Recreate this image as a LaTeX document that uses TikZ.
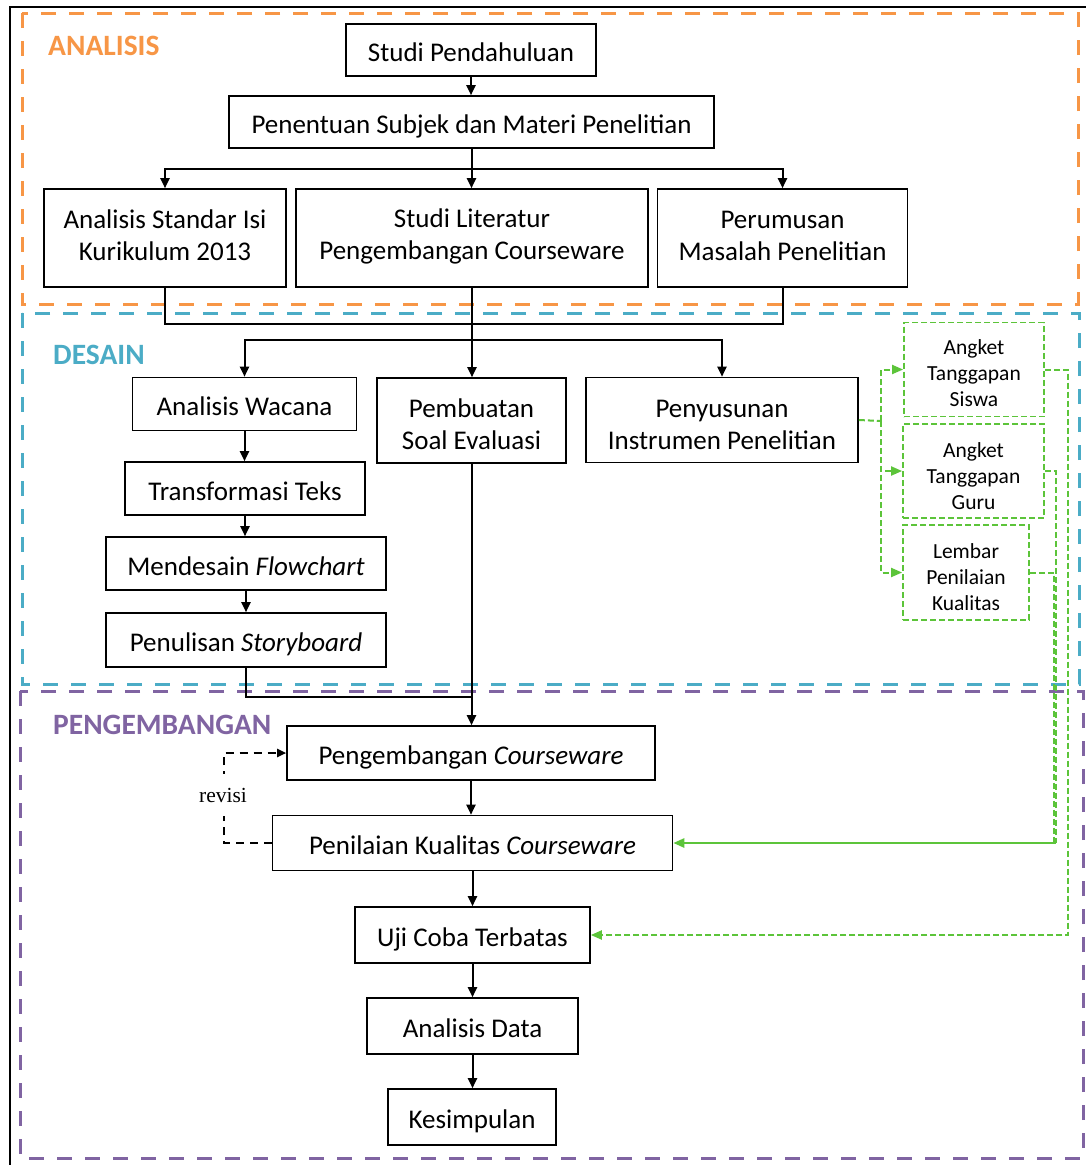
\documentclass[tikz,border=0pt]{standalone}
\usepackage{fontspec}
\setmainfont{Carlito}
\newfontfamily\revfont{Liberation Serif}
\usetikzlibrary{arrows.meta}
\definecolor{cOrange}{HTML}{F79646}
\definecolor{cBlue}{HTML}{4BACC6}
\definecolor{cPurple}{HTML}{8064A2}
\definecolor{cGreen}{HTML}{5CC43A}
\newcommand\dpth[1]{\rule[-#1]{0pt}{#1}}
\newcommand\htth[1]{\rule{0pt}{#1}}
\tikzset{
  box/.style={draw=black, line width=1.6pt, fill=white, align=center, inner sep=0pt,
    font=\fontsize{27}{32}\selectfont},
  onebox/.style={box, text height=23pt, text depth=0pt},
  gbox/.style={draw=cGreen, line width=1.8pt, dash pattern=on 6pt off 3pt, fill=white,
    align=center, inner sep=0pt, font=\fontsize{21.5}{26}\selectfont},
  conn/.style={draw=black, line width=2pt},
  arr/.style={conn, -{Triangle[length=10pt,width=9pt]}},
  revline/.style={draw=black, line width=2pt, dash pattern=on 8pt off 6pt,
    -{Triangle[length=9pt,width=8pt]}},
  gline/.style={draw=cGreen, line width=2pt, dash pattern=on 6pt off 3pt},
  garr/.style={gline, -{Triangle[length=11pt,width=9pt]}},
  gsolid/.style={draw=cGreen, line width=2.4pt, -{Triangle[length=11pt,width=9pt]}},
  phase/.style={line width=3pt, dash pattern=on 15pt off 13pt},
  title/.style={anchor=base west, inner sep=0pt, font=\fontsize{29.5}{34}\selectfont\bfseries},
}
\begin{document}
\begin{tikzpicture}[x=1pt,y=-1pt]
\useasboundingbox (0,0) rectangle (1086,1165);
\fill[white] (0,0) rectangle (1086,1165);
% outer frame
\draw[line width=1.5pt] (10,7) rectangle (1100,1180);
% phase frames
\draw[phase, draw=cOrange] (22,13) rectangle (1078,304);
\draw[phase, draw=cBlue] (22,313) rectangle (1079,684);
\draw[phase, draw=cPurple] (20,691) rectangle (1083,1158);
% titles
\node[title, text=cOrange] (tA) at (48,55) {ANALISIS};
\node[title, text=cBlue] (tD) at (53,364) {DESAIN};
\node[title, text=cPurple] (tP) at (53,734) {PENGEMBANGAN};
% helper coordinates
\coordinate (h1) at (0,324);
\coordinate (h2) at (0,340);
\coordinate (h3) at (0,697);
\coordinate (gb) at (881,421);
% boxes
\node[onebox, minimum width=250pt, minimum height=52pt] (sp) at (471,50) {Studi Pendahuluan};
\node[onebox, minimum width=485pt, minimum height=52pt] (pen) at (471.5,122) {Penentuan Subjek dan Materi Penelitian};
\node[box, minimum width=242pt, minimum height=98pt] (asi) at (165,238) {Analisis Standar Isi\\Kurikulum 2013\dpth{5pt}};
\node[box, minimum width=352pt, minimum height=98pt] (sl) at (472,238) {Studi Literatur\\Pengembangan Courseware\dpth{8pt}};
\node[box, minimum width=250pt, minimum height=98pt] (per) at (782.5,238) {Perumusan\\Masalah Penelitian\dpth{4pt}};
\node[onebox, minimum width=224pt, minimum height=53pt] (aw) at (244.5,404) {Analisis Wacana};
\node[box, minimum width=189pt, minimum height=85pt] (pse) at (471.5,420.5) {\htth{27pt}Pembuatan\\Soal Evaluasi};
\node[box, minimum width=272pt, minimum height=85pt] (pny) at (722,420) {\htth{27pt}Penyusunan\\Instrumen Penelitian};
\node[onebox, minimum width=240pt, minimum height=53pt] (tt) at (245,488.5) {Transformasi Teks};
\node[onebox, minimum width=280pt, minimum height=53pt] (md) at (246,563.5) {Mendesain \textit{Flowchart}};
\node[onebox, minimum width=280pt, minimum height=54pt] (ps) at (246,640) {Penulisan \textit{Storyboard}};
\node[onebox, minimum width=368pt, minimum height=54pt] (pc) at (471,753) {Pengembangan \textit{Courseware}};
\node[onebox, minimum width=400pt, minimum height=55pt] (pk) at (472.5,843) {Penilaian Kualitas \textit{Courseware}};
\node[onebox, minimum width=235pt, minimum height=56pt] (uji) at (472.5,935) {Uji Coba Terbatas};
\node[onebox, minimum width=211pt, minimum height=56pt] (ad) at (472.5,1026) {Analisis Data};
\node[onebox, minimum width=168pt, minimum height=56pt] (kes) at (472,1117) {Kesimpulan};
% green boxes
\node[gbox, minimum width=140pt, minimum height=94pt] (gs) at (974,369.5) {\htth{23pt}Angket\\Tanggapan\\Siswa};
\node[gbox, minimum width=141pt, minimum height=94pt] (gg) at (973.5,471) {\htth{25pt}Angket\\Tanggapan\\Guru};
\node[gbox, minimum width=126pt, minimum height=95pt] (gl) at (966,572.5) {\htth{24pt}Lembar\\Penilaian\\Kualitas};
% black connectors
\draw[arr] (sp.south) -- (sp.south |- pen.north);
\draw[conn] (pen.south) -- ++(0,20) coordinate (j1);
\draw[arr] (j1) -| (asi.north);
\draw[arr] (j1) -- (j1 |- sl.north);
\draw[arr] (j1) -| (per.north);
\draw[conn] (asi.south) -- (asi.south |- h1) -| (per.south);
\draw[arr] (sl.south) -- (sl.south |- pse.north);
\draw[arr] (sl.south |- h2) -| (aw.north);
\draw[arr] (sl.south |- h2) -| (pny.north);
\draw[arr] (aw.south) -- (aw.south |- tt.north);
\draw[arr] (tt.south) -- (tt.south |- md.north);
\draw[arr] (md.south) -- (md.south |- ps.north);
\draw[conn] (ps.south) |- (pse.south |- h3);
\draw[arr] (pse.south) -- (pse.south |- pc.north);
\draw[arr] (pc.south) -- (pc.south |- pk.north);
\draw[arr] (pk.south) -- (pk.south |- uji.north);
\draw[arr] (uji.south) -- (uji.south |- ad.north);
\draw[arr] (ad.south) -- (ad.south |- kes.north);
% revisi loop
\draw[revline] (pk.west) -- ++(-48,0) coordinate (r1) -- (r1 |- pc.west) -- (pc.west);
\node[fill=white, inner xsep=1pt, minimum height=42pt, font=\revfont\fontsize{21.5}{24}\selectfont] (rv) at (223,795) {revisi};
% green connectors
\draw[gline] (pny.east) -- (gb);
\draw[garr] (gb) |- (gs.west);
\draw[garr] (gb) |- (gg.west);
\draw[garr] (gb) |- (gl.west);
\draw[garr] (gs.east) -- ++(23,0) |- (uji.east);
\draw[gline] (gg.east) -- ++(11,0) coordinate (gq) -- (gq |- pk.east);
\draw[gline] (gl.east) -- ++(24,0) coordinate (gr) -- (gr |- pk.east);
\draw[gsolid] (gq |- pk.east) -- (pk.east);
\end{tikzpicture}
\end{document}
